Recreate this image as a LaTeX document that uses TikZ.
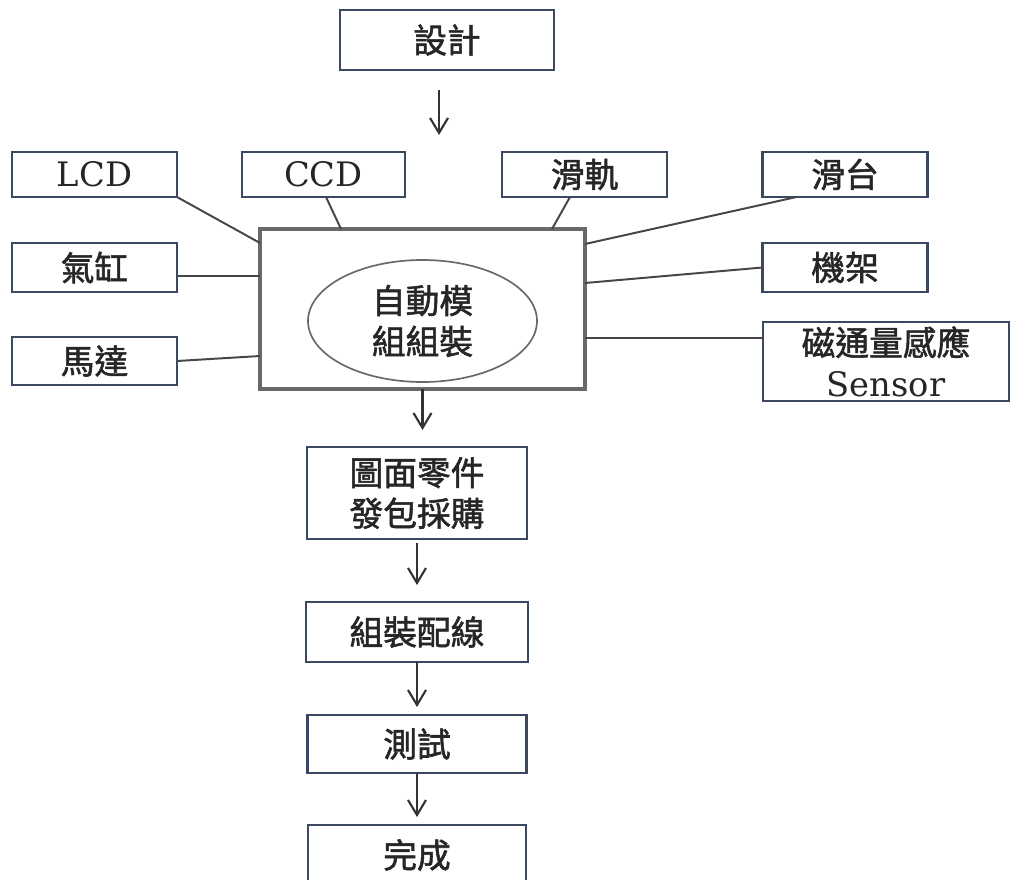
\documentclass[tikz,border=0pt]{standalone}
\usepackage{fontspec}
\setmainfont{DejaVu Serif}
\newfontfamily\cjk{Noto Sans CJK TC}[FakeBold=1.6]
\usetikzlibrary{positioning,calc,arrows.meta,shapes.geometric}
\definecolor{boxline}{RGB}{58,72,98}
\definecolor{wire}{RGB}{70,70,70}
\definecolor{hubline}{RGB}{105,105,105}

\begin{document}
\begin{tikzpicture}[x=0.25mm,y=-0.25mm,
                    font=\fontsize{24}{29}\selectfont,
                    text=black!85,
                    unit/.style={draw=boxline,line width=2pt,align=center,
                                 inner sep=0pt,outer sep=0pt,
                                 minimum width=41.25mm,minimum height=11.25mm},
                    wide/.style={unit,minimum width=55mm},
                    link/.style={draw=wire,line width=1.4pt},
                    flow/.style={draw=black!80,line width=1.5pt,
                                 -{Straight Barb[length=3.75mm,width=4.5mm]}}]
  \useasboundingbox (0,0) rectangle (1011,879);
  \clip (0,0) rectangle (1011,879);

  \node[unit,minimum width=53.5mm,minimum height=15mm] (design) at (447,40) {\cjk 設計};

  % parts around the module
  \node[unit] (lcd) at (94.5,174.5) {LCD};
  \node[unit,minimum width=40.75mm] (ccd) at (323.5,174.5) {CCD};
  \node[unit] (rail) at (584.5,174.5) {\cjk 滑軌};
  \node[unit] (slide) at (845,174.5) {\cjk 滑台};
  \node[unit,minimum height=12.25mm] (cyl) at (94.5,267.5) {\cjk 氣缸};
  \node[unit,minimum height=12mm] (motor) at (94.5,361) {\cjk 馬達};
  \node[unit,minimum height=12.25mm] (frame) at (845,267.5) {\cjk 機架};
  \node[unit,minimum width=61.5mm,minimum height=19.75mm] (sensor) at (886,361.5)
       {{\cjk 磁通量感應}\\Sensor};

  \node[draw=hubline,line width=2.4pt,outer sep=0pt,
        minimum width=81.25mm,minimum height=40mm] (hub) at (422.5,309) {};
  \node[draw=hubline,ellipse,line width=1.2pt,inner sep=0pt,align=center,
        minimum width=57.25mm,minimum height=30.5mm] (core) at (422.5,321)
       {\cjk 自動模\\\cjk 組組裝};

  % the flow downwards
  \node[wide,minimum height=23mm] (parts) at (417,493) {\cjk 圖面零件\\\cjk 發包採購};
  \node[wide,minimum width=55.5mm,minimum height=15mm,below=15.75mm of parts] (wiring) {\cjk 組裝配線};
  \node[wide,minimum width=54.75mm,minimum height=14.5mm,below=13.25mm of wiring] (test) {\cjk 測試};
  \node[wide,minimum width=54.5mm,minimum height=15mm,below=13mm of test] (done) {\cjk 完成};

  \draw[link] (lcd.south east) -- ($(hub.north west)+(0,14)$);
  \draw[link] ($(ccd.south)+(2.5,0)$) -- ($(hub.north west)+(81,0)$);
  \draw[link] ($(rail.south)+(-14.5,0)$) -- ($(hub.north east)+(-33,0)$);
  \draw[link] ($(slide.south west)+(34,0)$) -- ($(hub.north east)+(0,15)$);
  \draw[link] (frame.west) -- ($(hub.north east)+(0,54)$);
  \draw[link] ($(sensor.west)+(0,-23.5)$) coordinate (s) -- (s -| hub.east);
  \draw[link] ($(cyl.east)+(0,8.5)$) coordinate (c) -- (c -| hub.west);
  \draw[link] (motor.east) -- ($(hub.south west)+(0,-33)$);

  \coordinate (design-tip) at (439,135);
  \draw[flow,shorten <=5mm] (design.south -| design-tip) -- (design-tip);
  \draw[flow,shorten >=4.25mm] (hub.south) -- (hub.south |- parts.north);
  \draw[flow,shorten <=1mm,shorten >=4.25mm] (parts.south) -- (wiring.north);
  \draw[flow,shorten >=2mm] (wiring.south) -- (test.north);
  \draw[flow,shorten >=2mm] (test.south) -- (done.north);
\end{tikzpicture}
\end{document}
